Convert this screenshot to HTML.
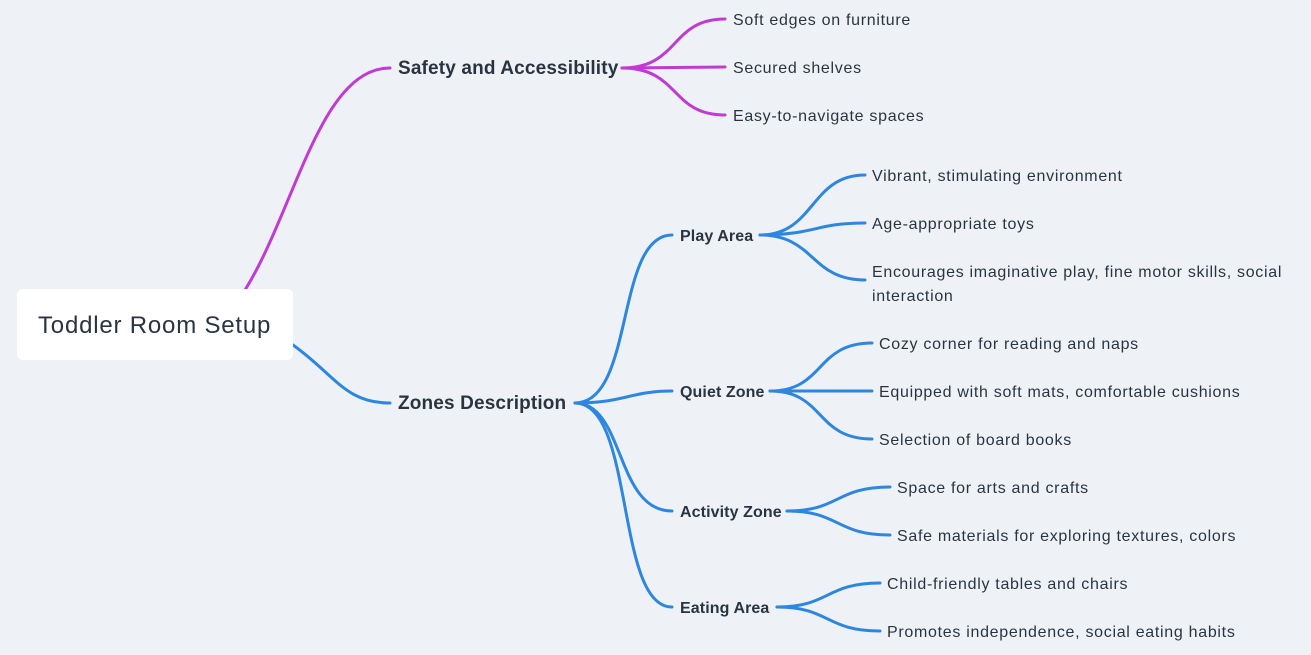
<!DOCTYPE html>
<html><head><meta charset="utf-8"><style>
body{margin:0;width:1311px;height:655px;background:#eef2f6;position:relative;overflow:hidden;font-family:"Liberation Sans",sans-serif;color:#2a3441}
.t{position:absolute;white-space:nowrap;font-size:16px;line-height:24px;letter-spacing:0.7px;margin-top:1px}
.b1{font-weight:bold;font-size:19px;letter-spacing:0.15px}
.b2{font-weight:bold;font-size:16px;letter-spacing:0.1px}
#root{position:absolute;left:17px;top:289px;width:276px;height:71px;background:#fff;border-radius:6px;font-size:24px;line-height:73px;text-indent:21px;letter-spacing:0.8px}
</style></head><body>
<svg width="1311" height="655" style="position:absolute;left:0;top:0" fill="none" stroke-width="3" stroke-linecap="round">
<g stroke="#c03bd2">
<path d="M245,290 C295,210 320,68 390,68"/>
<path d="M622,68 C680,68 670,19 725,19"/>
<path d="M622,68 L725,67"/>
<path d="M622,68 C680,68 670,115 725,115"/>
</g>
<g stroke="#2e86de">
<path d="M293,345 C335,375 345,403 390,403"/>
<path d="M575,403 C635,403 615,235 672,235"/>
<path d="M575,403 C625,403 630,391 672,391"/>
<path d="M575,403 C625,403 615,511 672,511"/>
<path d="M575,403 C635,403 615,607 672,607"/>
<path d="M760,235 C815,235 810,175 865,175"/>
<path d="M760,235 C815,235 815,223 865,223"/>
<path d="M760,235 C815,235 810,280 865,280"/>
<path d="M770,391 C825,391 815,343 872,343"/>
<path d="M770,391 L872,391"/>
<path d="M770,391 C825,391 815,439 872,439"/>
<path d="M787,511 C840,511 835,487 890,487"/>
<path d="M787,511 C840,511 835,535 890,535"/>
<path d="M777,607 C830,607 825,583 880,583"/>
<path d="M777,607 C830,607 825,631 880,631"/>
</g>
</svg>
<div id="root">Toddler Room Setup</div>
<div class="t b1" style="left:398px;top:56px">Safety and Accessibility</div>
<div class="t" style="left:733px;top:8px">Soft edges on furniture</div>
<div class="t" style="left:733px;top:56px">Secured shelves</div>
<div class="t" style="left:733px;top:104px">Easy-to-navigate spaces</div>
<div class="t b1" style="left:398px;top:391px">Zones Description</div>
<div class="t b2" style="left:680px;top:224px">Play Area</div>
<div class="t" style="left:872px;top:164px">Vibrant, stimulating environment</div>
<div class="t" style="left:872px;top:212px">Age-appropriate toys</div>
<div class="t" style="left:872px;top:260px">Encourages imaginative play, fine motor skills, social<br>interaction</div>
<div class="t b2" style="left:680px;top:380px">Quiet Zone</div>
<div class="t" style="left:879px;top:332px">Cozy corner for reading and naps</div>
<div class="t" style="left:879px;top:380px">Equipped with soft mats, comfortable cushions</div>
<div class="t" style="left:879px;top:428px">Selection of board books</div>
<div class="t b2" style="left:680px;top:500px">Activity Zone</div>
<div class="t" style="left:897px;top:476px">Space for arts and crafts</div>
<div class="t" style="left:897px;top:524px">Safe materials for exploring textures, colors</div>
<div class="t b2" style="left:680px;top:596px">Eating Area</div>
<div class="t" style="left:887px;top:572px">Child-friendly tables and chairs</div>
<div class="t" style="left:887px;top:620px">Promotes independence, social eating habits</div>
</body></html>
